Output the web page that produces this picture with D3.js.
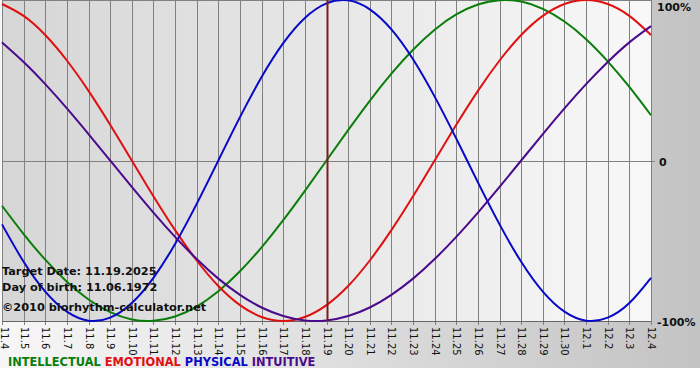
<!DOCTYPE html>
<html lang="en">
<head>
<meta charset="UTF-8">
<title>Biorhythm</title>
<style>
  body { margin: 0; overflow: hidden; background: #fff; }
  svg  { display: block; }
  .tick-label { font: 10px "DejaVu Sans", Verdana, sans-serif; fill: #111; }
  .info  { font: bold 11.3px "DejaVu Sans", Verdana, sans-serif; fill: #111; }
  .pct   { font: bold 11px "DejaVu Sans", Verdana, sans-serif; fill: #111; }
  .legend { font: bold 11.4px "DejaVu Sans", Verdana, sans-serif; }
</style>
</head>
<body>
<svg id="chart" width="700" height="380"></svg>

<script src="https://d3js.org/d3.v7.min.js"></script>
<script>
/* ---------------- Data ---------------- */
const days = ['11.4','11.5','11.6','11.7','11.8','11.9','11.10','11.11','11.12','11.13',
  '11.14','11.15','11.16','11.17','11.18','11.19','11.20','11.21','11.22','11.23',
  '11.24','11.25','11.26','11.27','11.28','11.29','11.30','12.1','12.2','12.3','12.4'];

const physical = [-0.398,-0.631,-0.817,-0.942,-0.998,-0.979,-0.888,-0.731,-0.520,-0.270,
  0.000,0.270,0.520,0.731,0.888,0.979,0.998,0.942,0.817,0.631,
  0.398,0.136,-0.136,-0.398,-0.631,-0.817,-0.942,-0.998,-0.979,-0.888,-0.731];

const emotional = [0.975,0.901,0.782,0.623,0.434,0.223,0.000,-0.223,-0.434,-0.623,
  -0.782,-0.901,-0.975,-1.000,-0.975,-0.901,-0.782,-0.623,-0.434,-0.223,
  0.000,0.223,0.434,0.623,0.782,0.901,0.975,1.000,0.975,0.901,0.782];

const intellectual = [-0.282,-0.458,-0.618,-0.756,-0.866,-0.945,-0.990,-0.999,-0.972,-0.910,
  -0.815,-0.690,-0.541,-0.372,-0.189,0.000,0.189,0.372,0.541,0.690,
  0.815,0.910,0.972,0.999,0.990,0.945,0.866,0.756,0.618,0.458,0.282];

const intuitive = [0.736,0.614,0.476,0.325,0.165,0.000,-0.165,-0.325,-0.476,-0.614,
  -0.736,-0.837,-0.916,-0.969,-0.997,-0.997,-0.969,-0.916,-0.837,-0.736,
  -0.614,-0.476,-0.325,-0.165,0.000,0.165,0.325,0.476,0.614,0.736,0.837];

const targetDay = '11.19';
const infoLines = ['Target Date: 11.19.2025', 'Day of birth: 11.06.1972', '\u00a92010 biorhythm-calculator.net'];
const pctLabels = [[1, '100%'], [0, '0'], [-1, '-100%']];

const series = [
  {name: 'INTELLECTUAL', values: intellectual, color: '#0a7d0a'},
  {name: 'EMOTIONAL',    values: emotional,    color: '#e01010'},
  {name: 'PHYSICAL',     values: physical,     color: '#0808c8'},
  {name: 'INTUITIVE',    values: intuitive,    color: '#4a0a8c'}
];

/* ---------------- Setup ---------------- */
const svg = d3.select('#chart');
const L = 2, R = 651, T = 0, B = 321;

const x = d3.scalePoint().domain(days).range([L, R]);
const y = d3.scaleLinear().domain([-1, 1]).range([B, T]);

const defs = svg.append('defs');
const bgGrad = defs.append('linearGradient').attr('id', 'bg');
bgGrad.append('stop').attr('offset', '0%').attr('stop-color', '#f7f7f7');
bgGrad.append('stop').attr('offset', '100%').attr('stop-color', '#c3c3c3');
const plotGrad = defs.append('linearGradient').attr('id', 'plotbg');
plotGrad.append('stop').attr('offset', '0%').attr('stop-color', '#d6d6d6');
plotGrad.append('stop').attr('offset', '100%').attr('stop-color', '#f8f8f8');

svg.append('rect').attr('width', 700).attr('height', 368).attr('fill', 'url(#bg)');
svg.append('rect').attr('x', L).attr('y', T).attr('width', R - L).attr('height', B - T)
  .attr('fill', 'url(#plotbg)');

/* grid */
const grid = svg.append('g').attr('stroke', '#808080').attr('stroke-width', 1);
grid.selectAll('line.v').data(days).enter().append('line')
  .attr('x1', d => Math.round(x(d)) + 0.5).attr('x2', d => Math.round(x(d)) + 0.5)
  .attr('y1', T).attr('y2', B + 4);
grid.append('line').attr('x1', L).attr('x2', R + 4)
  .attr('y1', Math.round(y(0)) + 0.5).attr('y2', Math.round(y(0)) + 0.5);
grid.append('line').attr('x1', L).attr('x2', R)
  .attr('y1', B + 0.5).attr('y2', B + 0.5).attr('stroke', '#666');
grid.append('line').attr('x1', L).attr('x2', R)
  .attr('y1', T + 0.5).attr('y2', T + 0.5);

/* x labels */
svg.append('g').selectAll('text').data(days).enter().append('text')
  .attr('class', 'tick-label')
  .attr('transform', d => `translate(${Math.max(Math.round(x(d)) + 0.5, 4)},${B + 6}) rotate(90)`)
  .attr('dy', '0.35em')
  .text(d => d);

/* right labels */
svg.append('g').selectAll('text').data(pctLabels).enter().append('text')
  .attr('class', 'pct')
  .attr('x', d => d[1] === '0' ? 659 : 657)
  .attr('y', d => y(d[0]) + (d[0] === 1 ? 11 : 5))
  .text(d => d[1]);

/* lines */
const line = d3.line()
  .x((d, i) => x(days[i]))
  .y(d => y(d))
  .curve(d3.curveNatural);

svg.append('g').selectAll('path').data(series).enter().append('path')
  .attr('d', d => line(d.values))
  .attr('fill', 'none')
  .attr('stroke', d => d.color)
  .attr('stroke-width', 2);

/* target day marker */
svg.append('line')
  .attr('x1', Math.round(x(targetDay)) + 0.5).attr('x2', Math.round(x(targetDay)) + 0.5)
  .attr('y1', T).attr('y2', B)
  .attr('stroke', '#7a1c1c').attr('stroke-width', 2);

/* info text */
svg.append('g').selectAll('text').data(infoLines).enter().append('text')
  .attr('class', 'info')
  .attr('x', 2)
  .attr('y', (d, i) => [275, 291, 311][i])
  .text(d => d);

/* legend */
const legend = svg.append('text').attr('class', 'legend').attr('x', 8).attr('y', 366);
series.forEach((s, i) => {
  legend.append('tspan').attr('fill', s.color).text((i ? ' ' : '') + s.name);
});
</script>
</body>
</html>
